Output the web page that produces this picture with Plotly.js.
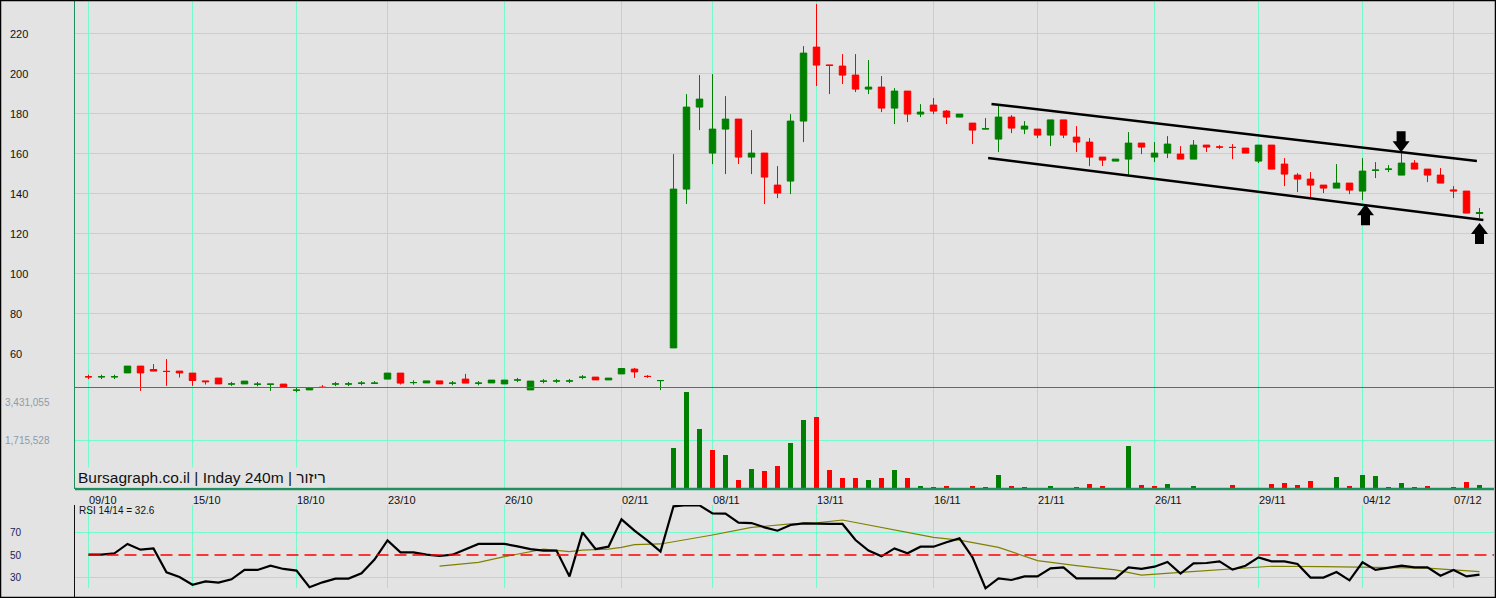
<!DOCTYPE html>
<html><head><meta charset="utf-8">
<script src="https://cdn.plot.ly/plotly-3.0.1.min.js"></script>
<style>html,body{margin:0;padding:0;background:#e3e3e3;}#chart{width:1496px;height:598px;}</style>
</head><body><div id="chart"></div>
<script>
// ---- data (one entry per 240-minute candle) ----
const opens  = [48.4,48.3,48.3,50.3,53.7,52.0,51.1,51.2,50.2,46.3,47.7,44.7,44.8,44.6,44.6,44.7,41.6,41.8,43.2,44.7,44.7,45.1,45.1,47.2,50.2,45.4,45.3,46.3,45.1,47.2,45.1,45.3,44.8,46.7,41.8,46.1,46.2,46.2,48.1,48.2,46.8,49.8,52.2,48.6,46.4,62.8,142.2,183.2,160.2,172.2,177.2,158.2,160.2,144.2,146.2,176.2,213.2,204.3,203.7,199.2,192.2,193.2,182.7,191.2,179.7,184.2,181.2,178.2,175.2,172.2,167.2,178.2,172.2,172.2,169.2,176.8,168.2,165.7,158.2,156.2,157.2,165.2,158.2,160.2,159.7,157.2,164.2,163.3,163.1,162.7,156.2,164.2,154.7,149.2,147.2,144.2,142.7,145.2,141.2,151.6,152.1,149.2,155.2,152.2,149.2,141.8,141.2,130.0];
const highs  = [49.4,49.4,49.4,53.7,53.7,54.7,57.2,51.2,50.2,46.3,47.7,45.8,46.2,45.8,44.7,44.7,42.8,43.0,44.2,45.8,45.8,46.2,46.2,50.2,50.2,46.6,46.3,46.3,46.2,49.8,46.2,46.7,46.7,47.8,46.2,47.2,47.3,47.3,49.2,48.2,47.7,52.5,52.8,49.2,46.5,159.7,189.7,199.2,199.7,188.7,177.2,171.7,160.2,153.7,179.7,213.7,234.7,204.3,209.7,209.7,206.7,198.7,192.7,191.2,184.7,187.7,181.7,179.7,175.2,177.7,184.2,179.2,176.2,172.2,176.8,176.8,173.7,167.7,158.2,157.2,170.7,165.2,165.7,168.7,163.7,166.7,164.2,164.2,164.7,162.7,164.2,164.2,157.7,150.2,150.7,144.2,154.7,145.2,157.7,155.7,154.2,160.2,156.7,152.2,152.7,143.7,141.2,132.7];
const lows   = [47.2,47.2,47.2,50.3,41.3,51.2,43.8,48.0,43.8,44.5,44.8,43.8,44.8,43.6,41.3,43.3,40.6,41.8,43.0,43.7,43.7,44.1,45.1,47.2,44.5,44.4,45.3,44.8,44.1,45.2,44.1,45.3,44.8,45.7,41.8,45.1,45.2,45.2,47.1,46.8,46.8,49.8,47.8,47.8,41.7,62.8,134.8,171.7,154.7,149.7,154.7,149.7,134.7,137.7,139.7,165.7,193.7,189.7,194.7,190.7,189.7,180.7,174.7,175.7,178.2,179.7,174.7,178.2,164.7,172.2,160.7,170.2,169.7,167.7,163.7,167.7,160.7,153.7,153.7,156.2,149.2,159.7,155.7,157.7,157.2,157.2,160.7,162.2,157.2,160.2,155.2,152.2,143.7,140.7,138.2,140.2,142.7,139.7,136.7,147.7,150.7,149.2,152.2,145.7,145.2,137.7,130.2,127.7];
const closes = [48.3,48.4,48.4,53.7,50.3,51.2,51.0,50.3,46.5,45.9,44.8,44.8,46.2,44.7,44.7,43.3,41.7,43.0,43.0,44.8,44.8,45.2,45.2,50.2,45.2,45.5,46.3,44.8,45.2,45.2,45.2,46.7,46.7,46.8,46.2,46.2,46.3,46.3,48.2,46.8,47.7,52.5,50.8,48.5,46.5,142.2,183.2,187.2,172.2,177.2,158.2,160.2,148.2,140.2,176.2,210.2,204.2,204.0,199.2,192.2,193.2,182.7,191.2,179.7,180.7,181.2,178.2,179.7,171.7,172.4,178.2,172.7,173.7,169.2,176.8,169.2,165.7,158.2,156.7,157.2,165.2,163.2,160.2,164.7,157.2,164.2,163.2,163.2,163.0,160.2,164.2,152.2,149.7,147.2,144.2,142.7,145.2,141.7,151.2,151.7,152.2,155.2,152.2,149.2,145.2,141.3,130.2,130.5];
const volumes = [0,0,0,0,0,0,0,0,0,0,0,0,0,0,0,0,0,0,0,0,0,0,0,0,0,0,0,0,0,0,0,0,0,0,0,0,0,0,0,0,0,0,0,0,0,
  1445000,3431055,2115000,1375000,1198000,317000,705000,635000,811000,1621000,2432000,2538000,670000,388000,388000,317000,388000,670000,388000,
  106000,70000,106000,35000,106000,70000,493000,106000,70000,35000,106000,35000,70000,176000,106000,35000,1516000,141000,106000,176000,35000,106000,35000,0,141000,0,0,
  176000,211000,141000,282000,35000,423000,106000,493000,458000,70000,211000,70000,106000,0,70000,247000,141000];
const rsi = [50.3,50.3,51.5,59.8,54.7,55.9,34.6,30.4,23.6,26.6,25.4,28.4,36.7,36.7,40.5,37.6,36.1,21.3,25.7,29.0,29.0,33.7,45.9,63.0,52.4,52.4,50.3,49.1,50.3,55.3,59.8,59.8,59.8,57.7,55.3,53.9,53.9,31.0,70.1,55.3,57.4,81.7,71.6,62.7,53.0,93.3,94.4,94.1,87.0,86.7,78.7,78.4,74.6,71.6,76.7,78.1,77.6,77.6,77.6,63.3,53.9,48.8,55.9,51.5,57.4,57.4,61.3,64.8,47.9,20.4,29.3,27.8,31.0,31.0,38.1,39.0,29.3,29.6,29.3,29.3,39.0,37.6,39.6,43.8,33.4,42.6,42.9,44.4,37.0,40.5,47.9,44.4,44.4,42.0,29.9,29.9,34.9,27.5,43.5,36.7,38.4,40.5,39.0,39.0,31.6,36.7,31.0,32.6];
const rsiMaIdx = [27,30,32,35,37,38,40,41,42,44,48,51,54,56,58,61,65,67,70,73,76,79,81,84,87,91,95,98,103,107];
const rsiMaVal = [40.2,43.5,48.5,55.3,53.0,54.4,55.3,56.8,59.2,59.8,67.8,74.5,77.6,78.5,81.1,74.6,65.7,63.3,56.8,45.0,40.5,36.7,32.2,34.6,37.0,40.0,39.6,39.0,38.4,35.2];
const dateTickIdx = [0,8,16,23,32,41,48,56,65,73,82,90,98,105];
const dateLabels = ['09/10','15/10','18/10','23/10','26/10','02/11','08/11','13/11','16/11','21/11','26/11','29/11','04/12','07/12'];
const priceTicks = [220,200,180,160,140,120,100,80,60];
const volumeTicks = [3431055,1715528];
const rsiTicks = [70,50,30];
const rsiGrid = [70,30];
const channelUpper = [[69.46,184.8],[106.8,156.2]];
const channelLower = [[69.2,157.8],[107.3,126.8]];
const arrowMarks = [[100.97,160.67,'down'],[98.23,134.67,'up'],[107.0,125.3,'up']];
const watermark = 'Bursagraph.co.il | Inday 240m | ריזור';

// ---- styles ----
const GREEN='#008000', RED='#ff0000', GRID='#74fbcc', AXIS='#1f8f60', BG='#e3e3e3';
const FONT='Liberation Sans, Arial, sans-serif';
const H=598, PW=1419, LM=75;
const py = px => 1 - px/H;          // pixel row -> paper y
const pxX = px => (px - LM)/PW;     // pixel col -> paper x
const XR = [-1.03846, 108.11538];

const idx = closes.map((_,i)=>i);
const volColors = closes.map((c,i)=> (i>0 && c < closes[i-1]) ? RED : GREEN);

const traces = [
  {type:'candlestick', x:idx, open:opens, high:highs, low:lows, close:closes,
   xaxis:'x', yaxis:'y', whiskerwidth:0, hoverinfo:'skip',
   increasing:{line:{color:GREEN,width:1}, fillcolor:GREEN},
   decreasing:{line:{color:RED,width:1}, fillcolor:RED}},
  {type:'bar', x:idx, y:volumes, xaxis:'x', yaxis:'y2', width:0.46,
   marker:{color:volColors, line:{width:0}}, hoverinfo:'skip'},
  {type:'scatter', mode:'lines', x:rsiMaIdx, y:rsiMaVal, xaxis:'x', yaxis:'y3',
   line:{color:'#808000', width:1.2}, hoverinfo:'skip'},
  {type:'scatter', mode:'lines', x:idx, y:rsi, xaxis:'x', yaxis:'y3',
   line:{color:'#000000', width:2.2}, hoverinfo:'skip'}
];

const annotations = [];
priceTicks.forEach(v=>annotations.push({xref:'paper', yref:'y', x:pxX(8), y:v, xanchor:'left', yanchor:'middle',
  text:String(v), showarrow:false, font:{family:FONT, size:11, color:'#111'}}));
volumeTicks.forEach((v,k)=>annotations.push({xref:'paper', yref:'y2', x:pxX(3), y:v, xanchor:'left', yanchor:'middle',
  yshift:k===0?-10:0, text:v.toLocaleString('en-US'), showarrow:false, font:{family:FONT, size:10, color:'#8c9bab'}}));
rsiTicks.forEach(v=>annotations.push({xref:'paper', yref:'y3', x:pxX(8), y:v, xanchor:'left', yanchor:'middle',
  text:String(v), showarrow:false, font:{family:FONT, size:10, color:'#22225a'}}));
dateTickIdx.forEach((t,k)=>annotations.push({xref:'x', yref:'paper', x:t, y:py(500), xanchor:'left', yanchor:'middle',
  xshift:-2, text:dateLabels[k], showarrow:false, font:{family:FONT, size:11, color:'#111'}}));
annotations.push({xref:'paper', yref:'paper', x:pxX(76), y:py(488), xanchor:'left', yanchor:'bottom',
  text:watermark, showarrow:false, bgcolor:BG, borderpad:1, font:{family:FONT, size:15.5, color:'#111'}});
annotations.push({xref:'paper', yref:'paper', x:pxX(77), y:py(510), xanchor:'left', yanchor:'middle',
  text:'RSI 14/14 = '+rsi[rsi.length-1], showarrow:false, font:{family:FONT, size:10, color:'#111'}});

const gridLine = {color:GRID, width:1};
const shapes = [];
// grid lines (drawn below the data)
priceTicks.forEach(v=>shapes.push({type:'line', layer:'below', xref:'paper', yref:'y', x0:0, x1:1, y0:v, y1:v, line:gridLine}));
shapes.push({type:'line', layer:'below', xref:'paper', yref:'y2', x0:0, x1:1, y0:volumeTicks[1], y1:volumeTicks[1], line:gridLine});
rsiGrid.forEach(v=>shapes.push({type:'line', layer:'below', xref:'paper', yref:'y3', x0:0, x1:1, y0:v, y1:v, line:gridLine}));
dateTickIdx.forEach(t=>{
  shapes.push({type:'line', layer:'below', xref:'x', yref:'paper', x0:t, x1:t, y0:py(489), y1:1, line:gridLine});
  shapes.push({type:'line', layer:'below', xref:'x', yref:'paper', x0:t, x1:t, y0:py(588), y1:py(505), line:gridLine});
});
shapes.push(
  {type:'line', xref:'paper', yref:'paper', x0:0, x1:1, y0:py(387.5), y1:py(387.5), line:{color:AXIS, width:1}},
  {type:'line', xref:'paper', yref:'paper', x0:0, x1:1, y0:py(489), y1:py(489), line:{color:AXIS, width:2.5}},
  {type:'line', xref:'x', yref:'y3', x0:0, x1:XR[1], y0:50, y1:50, line:{color:RED, width:1.5, dash:'12px,6px'}},
  {type:'line', xref:'x', yref:'y', x0:channelUpper[0][0], y0:channelUpper[0][1], x1:channelUpper[1][0], y1:channelUpper[1][1], line:{color:'#000', width:2.5}},
  {type:'line', xref:'x', yref:'y', x0:channelLower[0][0], y0:channelLower[0][1], x1:channelLower[1][0], y1:channelLower[1][1], line:{color:'#000', width:2.5}},
  {type:'rect', xref:'paper', yref:'paper', x0:pxX(0.5), x1:pxX(1495.5), y0:py(597.5), y1:py(0.5), line:{color:'#000', width:1.5}}
);
arrowMarks.forEach(a=>{
  const s = a[2]==='up' ? -1 : 1;
  shapes.push({type:'path', xref:'x', yref:'y', xsizemode:'pixel', ysizemode:'pixel', xanchor:a[0], yanchor:a[1],
    path:`M0,0 L8.5,${11*s} L4.5,${11*s} L4.5,${21*s} L-4.5,${21*s} L-4.5,${11*s} L-8.5,${11*s} Z`,
    fillcolor:'#000', line:{color:'#000', width:0}});
});

const layout = {
  width:1496, height:598, margin:{l:LM, r:2, t:0, b:0, pad:0},
  paper_bgcolor:BG, plot_bgcolor:'rgba(0,0,0,0)', showlegend:false,
  boxgap:0.5, boxgroupgap:0, bargap:0,
  xaxis:{range:XR, showticklabels:false, ticks:'', showgrid:false,
    zeroline:false, showline:false, rangeslider:{visible:false}, fixedrange:true},
  yaxis:{domain:[py(489), 1], range:[-7.75, 236.75], showticklabels:false, ticks:'', showgrid:false,
    zeroline:false, showline:true, linecolor:AXIS, linewidth:1, fixedrange:true},
  yaxis2:{domain:[py(489), py(387)], range:[0, 3607892], showticklabels:false, ticks:'', showgrid:false,
    zeroline:false, showline:false, fixedrange:true},
  yaxis3:{domain:[py(597), py(505)], range:[12.67, 94.44], showticklabels:false, ticks:'', showgrid:false,
    zeroline:false, showline:true, linecolor:'#111', linewidth:1, fixedrange:true},
  annotations:annotations, shapes:shapes
};
Plotly.newPlot('chart', traces, layout, {staticPlot:true, displayModeBar:false});
</script></body></html>
